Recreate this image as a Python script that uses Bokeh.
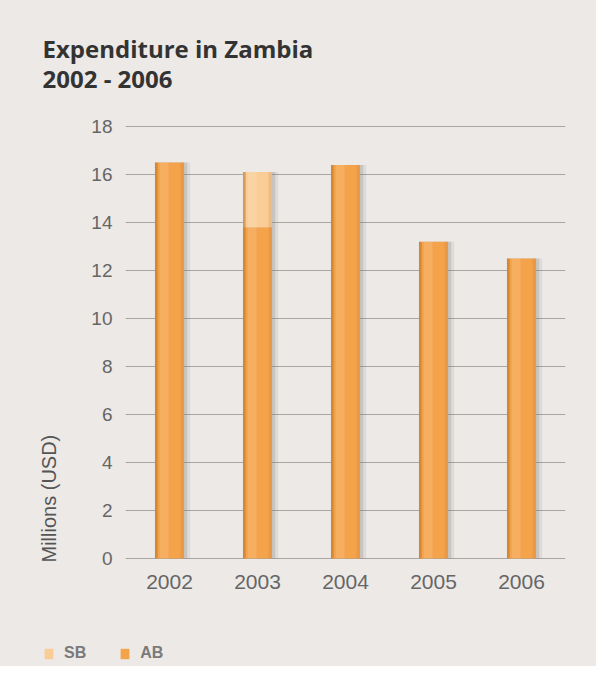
from bokeh.plotting import figure
from bokeh.models import (ColumnDataSource, FactorRange, Range1d, FixedTicker, Title,
                          Legend, LegendItem)
from bokeh.layouts import column, row
from bokeh.transform import dodge
from bokeh.embed import file_html
from bokeh.resources import INLINE

# ---- data ----
years = ["2002", "2003", "2004", "2005", "2006"]
ab = [16.5, 13.8, 16.4, 13.2, 12.5]
sb = [0.0, 2.3, 0.0, 0.0, 0.0]
y_ticks = [0, 2, 4, 6, 8, 10, 12, 14, 16, 18]
series = ["AB", "SB"]
legend_order = ["SB", "AB"]
title_lines = ["Expenditure in Zambia", "2002 - 2006"]
y_label = "Millions (USD)"

AB_COLOR = "#F5A34B"
SB_COLOR = "#FACD96"
BG = "#ECE9E6"
colors = dict(AB=AB_COLOR, SB=SB_COLOR)

total = [a + s for a, s in zip(ab, sb)]
src = ColumnDataSource(dict(year=years, AB=ab, SB=sb, total=total))

W = 596
p = figure(width=W, height=616, output_backend="svg", toolbar_location=None,
           x_range=FactorRange(*years), y_range=Range1d(-2 / 24, 18.25),
           min_border_left=125, min_border_right=31, min_border_top=120,
           min_border_bottom=56)
p.background_fill_color = BG
p.border_fill_color = BG
p.outline_line_color = None

BW = 0.33
# shadows
p.vbar(x=dodge("year", 0.07, range=p.x_range), top="total", width=BW, source=src,
       fill_color="#7d7770", fill_alpha=0.12, line_color=None)
p.vbar(x=dodge("year", 0.035, range=p.x_range), top="total", width=BW, source=src,
       fill_color="#7d7770", fill_alpha=0.22, line_color=None)

rs = p.vbar_stack(series, x="year", width=BW, source=src,
                  color=[colors[s] for s in series], line_color=None)

# shading to give the 3D look
p.vbar(x=dodge("year", -BW / 2 + 0.015, range=p.x_range), top="total", width=0.03,
       source=src, fill_color="#b8712a", fill_alpha=0.55, line_color=None)
p.vbar(x=dodge("year", -0.06, range=p.x_range), top="total", width=0.1,
       source=src, fill_color="#ffffff", fill_alpha=0.12, line_color=None)
p.vbar(x=dodge("year", BW / 2 - 0.02, range=p.x_range), top="total", width=0.04,
       source=src, fill_color="#b8712a", fill_alpha=0.18, line_color=None)

# axes / grid
p.xgrid.grid_line_color = None
p.ygrid.grid_line_color = "#a9a6a2"
p.ygrid.grid_line_width = 1
p.yaxis.ticker = FixedTicker(ticks=y_ticks)
for ax in (p.xaxis[0], p.yaxis[0]):
    ax.axis_line_color = None
    ax.major_tick_line_color = None
    ax.minor_tick_line_color = None
    ax.major_label_text_font = "Liberation Sans"
    ax.major_label_text_color = "#666666"
p.xaxis.major_label_text_font_size = "21px"
p.yaxis.major_label_text_font_size = "19px"
p.xaxis.major_label_standoff = 8
p.yaxis.major_label_standoff = 7

# two-line title in the top panel
p.add_layout(Title(text="\n".join(title_lines), align="left", offset=-83, standoff=51,
                   text_font="Open Sans", text_font_style="bold",
                   text_line_height=0.92,
                   text_font_size="24px", text_color="#333333"), "above")
# y-axis label, kept low as in the reference
p.add_layout(Title(text=y_label, align="left", offset=-2, standoff=58,
                   text_font="Liberation Sans", text_font_style="normal",
                   text_font_size="20px", text_color="#555555"), "left")

# legend strip under the chart
leg = figure(width=W, height=50, output_backend="svg", toolbar_location=None,
             x_range=Range1d(0, 1), y_range=Range1d(0, 1), min_border=0)
leg.background_fill_color = BG
leg.border_fill_color = BG
leg.outline_line_color = None
leg.axis.visible = False
leg.grid.visible = False
dummy = {s: leg.vbar(x=[-1], top=[0], width=0.1, color=colors[s], line_color=None)
         for s in series}
legend = Legend(items=[LegendItem(label=s, renderers=[dummy[s]]) for s in legend_order],
                location=(43, 4), orientation="horizontal",
                glyph_width=11, glyph_height=13, label_height=13,
                label_standoff=10, spacing=33, padding=0, margin=0,
                background_fill_alpha=0, border_line_color=None,
                label_text_font="Liberation Sans", label_text_font_size="16px",
                label_text_font_style="bold", label_text_color="#7a7a7a")
leg.add_layout(legend, "center")

layout = column(p, row(leg), spacing=0, styles={"background-color": BG})
open("out.html", "w").write(file_html(layout, INLINE))
